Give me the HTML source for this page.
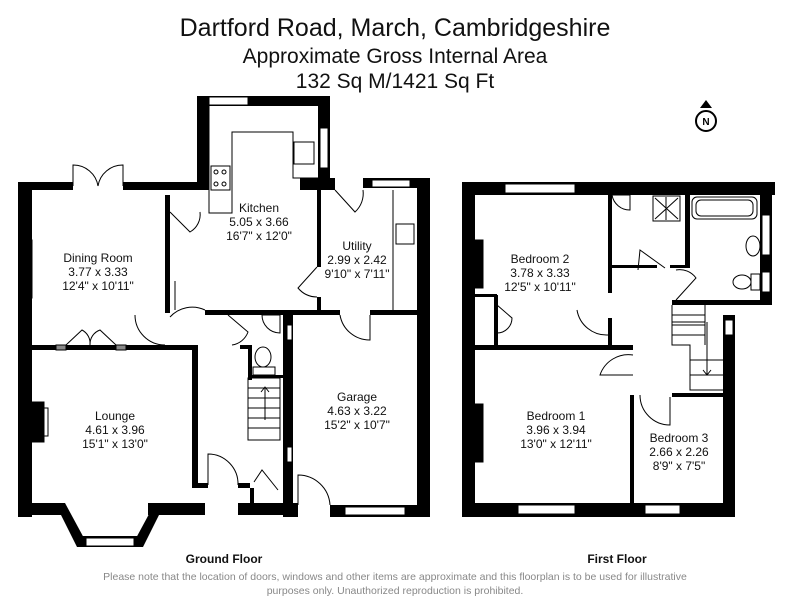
<!DOCTYPE html>
<html><head><style>
html,body{margin:0;padding:0;background:#fff;}
svg{display:block;}
text{font-family:"Liberation Sans",sans-serif;}
</style></head><body>
<svg width="792" height="612" viewBox="0 0 792 612" xmlns="http://www.w3.org/2000/svg">
<rect width="792" height="612" fill="#fff"/>
<g text-anchor="middle" fill="#111">
<text x="395" y="36" font-size="25">Dartford Road, March, Cambridgeshire</text>
<text x="395" y="63" font-size="21">Approximate Gross Internal Area</text>
<text x="395" y="88" font-size="21">132 Sq M/1421 Sq Ft</text>
</g>
<circle cx="706" cy="121" r="10" fill="#fff" stroke="#000" stroke-width="2"/>
<path d="M700 108 L706 100 L712 108 Z" fill="#000"/>
<text x="706" y="125" font-size="10" text-anchor="middle" font-weight="bold">N</text>

<g fill="#000">
<rect x="18" y="182" width="14" height="335"/>
<rect x="18" y="182" width="55" height="8"/>
<rect x="123" y="182" width="86" height="8"/>
<rect x="197" y="96" width="12" height="94"/>
<rect x="197" y="96" width="133" height="10"/>
<rect x="318" y="96" width="12" height="90"/>
<rect x="300" y="178" width="35" height="12"/>
<rect x="363" y="178" width="67" height="10"/>
<rect x="417" y="178" width="13" height="339"/>
<rect x="165" y="195" width="5" height="118"/>
<rect x="32" y="345" width="161" height="5"/>
<rect x="192" y="345" width="6" height="143"/>
<rect x="18" y="503" width="45" height="12"/>
<rect x="148" y="503" width="57" height="12"/>
<polygon points="55,503 65,503 85,540 77,547"/>
<polygon points="155,503 165,503 143,547 135,540"/>
<rect x="77" y="536" width="66" height="11"/>
<rect x="195" y="483" width="13" height="5"/>
<rect x="238" y="483" width="12" height="5"/>
<rect x="238" y="503" width="60" height="12"/>
<rect x="250" y="488" width="4" height="15"/>
<rect x="205" y="310" width="125" height="5"/>
<rect x="165" y="310" width="5" height="3"/>
<rect x="330" y="310" width="10" height="5"/>
<rect x="370" y="310" width="60" height="5"/>
<rect x="317" y="190" width="4" height="77"/>
<rect x="317" y="297" width="4" height="15"/>
<rect x="283" y="315" width="10" height="202"/>
<rect x="248" y="345" width="4" height="35"/>
<rect x="240" y="345" width="10" height="4"/>
<rect x="248" y="375" width="35" height="3"/>
<rect x="330" y="505" width="100" height="12"/>
<rect x="293" y="505" width="5" height="12"/>
</g>
<g fill="#fff" stroke="#000" stroke-width="1">
<rect x="209" y="97" width="39" height="8"/>
<rect x="320" y="128" width="8" height="40"/>
<rect x="372" y="180" width="38" height="7"/>
<rect x="287" y="325" width="5" height="15"/>
<rect x="287" y="447" width="5" height="15"/>
<rect x="86" y="538" width="48" height="8"/>
<rect x="345" y="507" width="60" height="8"/>
<rect x="56" y="345" width="10" height="5" fill="#888"/>
<rect x="116" y="345" width="10" height="5" fill="#888"/>
</g>
<g fill="none" stroke="#000" stroke-width="1">
<polyline points="209,106 209,213 232,213 232,132 293,132 293,178 318,178"/>
<rect x="211" y="166" width="19" height="24"/>
<circle cx="216" cy="172" r="2"/><circle cx="224" cy="172" r="2"/>
<circle cx="216" cy="184" r="2"/><circle cx="224" cy="184" r="2"/>
<rect x="294" y="142" width="20" height="22"/>
<line x1="393" y1="190" x2="393" y2="310"/>
<rect x="396" y="224" width="18" height="20"/>
<path d="M73 186 L73 165 A25 25 0 0 1 98 186"/><path d="M123 186 L123 165 A25 25 0 0 0 98 186"/>
<path d="M170 212 L190 232 A20 20 0 0 0 200 212"/>
<path d="M170 317 A30 30 0 0 1 205 310"/><line x1="175" y1="281" x2="175" y2="310"/>
<path d="M135 315 A30 30 0 0 0 165 345"/>
<path d="M66 345 L82 330 A15 15 0 0 1 90 345"/><path d="M116 345 L100 330 A15 15 0 0 0 90 345"/>
<path d="M335 190 L355 212 A25 25 0 0 0 363 190"/>
<path d="M317 267 L298 288 A25 25 0 0 0 317 297"/>
<path d="M340 315 A30 30 0 0 0 370 340 L370 315"/>
<path d="M228 315 L248 332 A20 20 0 0 1 232 345"/>
<path d="M208 485 L208 454 A30 30 0 0 1 238 485"/>
<path d="M254 482 L262 470 L278 490"/>
<path d="M298 505 L298 475 A32 32 0 0 1 330 505"/>
<path d="M262 315 L280 315 L280 333 A18 18 0 0 1 262 315"/>
<ellipse cx="263" cy="357" rx="8" ry="10"/>
<rect x="253" y="367" width="22" height="8"/>
<rect x="248" y="378" width="32" height="62"/>
<line x1="248" y1="388" x2="280" y2="388"/><line x1="248" y1="398" x2="280" y2="398"/>
<line x1="248" y1="408" x2="280" y2="408"/><line x1="248" y1="418" x2="280" y2="418"/>
<line x1="248" y1="428" x2="280" y2="428"/>
<line x1="265" y1="387" x2="265" y2="420"/><polyline points="261,392 265,387 269,392"/>
<rect x="32" y="402" width="12" height="40" fill="#000"/>
<rect x="44" y="408" width="4" height="28" fill="#fff"/>
</g>

<g fill="#000">
<rect x="462" y="182" width="313" height="13"/>
<rect x="462" y="182" width="13" height="335"/>
<rect x="760" y="195" width="12" height="110"/>
<rect x="672" y="300" width="100" height="5"/>
<rect x="723" y="315" width="12" height="202"/>
<rect x="462" y="503" width="273" height="14"/>
<rect x="608" y="195" width="4" height="98"/>
<rect x="608" y="318" width="4" height="27"/>
<rect x="475" y="345" width="158" height="5"/>
<rect x="630" y="395" width="4" height="110"/>
<rect x="672" y="393" width="53" height="4"/>
<rect x="685" y="195" width="5" height="72"/>
<rect x="612" y="265" width="45" height="3"/>
<rect x="670" y="265" width="20" height="3"/>
<rect x="494" y="295" width="4" height="50"/>
<rect x="475" y="294" width="22" height="3"/>
</g>
<g fill="#fff" stroke="#000" stroke-width="1">
<rect x="505" y="184" width="70" height="9"/>
<rect x="762" y="215" width="8" height="40"/>
<rect x="762" y="272" width="8" height="20"/>
<rect x="518" y="505" width="57" height="9"/>
<rect x="645" y="505" width="35" height="9"/>
<rect x="725" y="320" width="8" height="15"/>
</g>
<g fill="none" stroke="#000" stroke-width="1">
<path d="M638 270 L640 250 L665 268"/>
<path d="M676 300 L696 278 A20 20 0 0 0 676 270"/>
<path d="M577 310 A30 30 0 0 0 608 335"/>
<path d="M497 305 L512 318 A15 15 0 0 1 497 333"/>
<path d="M633 355 A30 30 0 0 0 600 375 L633 375"/>
<path d="M640 395 A30 30 0 0 0 670 425 L670 397"/>
<path d="M612 195 L630 195 L630 210 A18 18 0 0 1 612 195"/>
<rect x="653" y="196" width="27" height="25"/>
<line x1="655" y1="198" x2="678" y2="219"/><line x1="678" y1="198" x2="655" y2="219"/><line x1="666" y1="197" x2="666" y2="220"/>
<rect x="692" y="197" width="65" height="22" rx="5"/>
<rect x="696" y="200" width="57" height="16" rx="5"/>
<ellipse cx="753" cy="246" rx="7" ry="10"/>
<ellipse cx="742" cy="282" rx="9" ry="7"/><rect x="751" y="274" width="9" height="16"/>
<polyline points="672,305 672,345 690,345 690,390 725,390"/>
<line x1="672" y1="315" x2="705" y2="315"/><line x1="672" y1="325" x2="705" y2="325"/>
<line x1="672" y1="335" x2="705" y2="335"/><line x1="690" y1="360" x2="725" y2="360"/>
<line x1="690" y1="375" x2="725" y2="375"/><line x1="705" y1="305" x2="705" y2="345"/>
<polyline points="672,322 705,322 705,345"/>
<line x1="707" y1="322" x2="707" y2="375"/><polyline points="703,370 707,375 711,370"/>
<rect x="475" y="240" width="8" height="48" fill="#000"/>
<rect x="475" y="404" width="8" height="58" fill="#000"/>
<rect x="20" y="240" width="12" height="58" fill="#000"/>
</g>

<g text-anchor="middle" font-size="12" fill="#111">
<text x="259" y="212">Kitchen</text><text x="259" y="226">5.05 x 3.66</text><text x="259" y="240">16'7" x 12'0"</text>
<text x="98" y="262">Dining Room</text><text x="98" y="276">3.77 x 3.33</text><text x="98" y="290">12'4" x 10'11"</text>
<text x="357" y="250">Utility</text><text x="357" y="264">2.99 x 2.42</text><text x="357" y="278">9'10" x 7'11"</text>
<text x="115" y="420">Lounge</text><text x="115" y="434">4.61 x 3.96</text><text x="115" y="448">15'1" x 13'0"</text>
<text x="357" y="401">Garage</text><text x="357" y="415">4.63 x 3.22</text><text x="357" y="429">15'2" x 10'7"</text>
<text x="540" y="263">Bedroom 2</text><text x="540" y="277">3.78 x 3.33</text><text x="540" y="291">12'5" x 10'11"</text>
<text x="556" y="420">Bedroom 1</text><text x="556" y="434">3.96 x 3.94</text><text x="556" y="448">13'0" x 12'11"</text>
<text x="679" y="442">Bedroom 3</text><text x="679" y="456">2.66 x 2.26</text><text x="679" y="470">8'9" x 7'5"</text>
</g>
<g text-anchor="middle" font-weight="bold" font-size="12" fill="#111">
<text x="224" y="563">Ground Floor</text><text x="617" y="563">First Floor</text>
</g>
<g text-anchor="middle" font-size="10.5" fill="#888">
<text x="395" y="580">Please note that the location of doors, windows and other items are approximate and this floorplan is to be used for illustrative</text>
<text x="395" y="594">purposes only. Unauthorized reproduction is prohibited.</text>
</g>
</svg>
</body></html>
